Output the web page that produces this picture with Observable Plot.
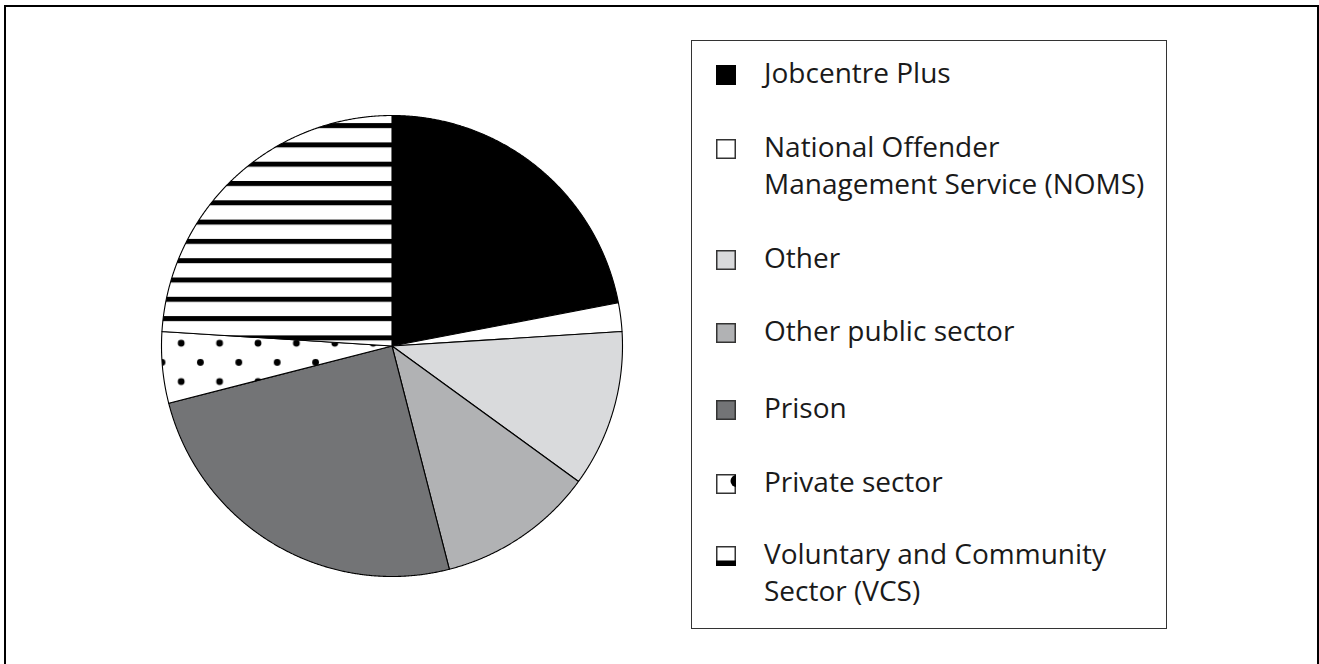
<!DOCTYPE html>
<html><head><meta charset="utf-8">
<script src="https://cdn.jsdelivr.net/npm/d3@7"></script>
<script src="https://cdn.jsdelivr.net/npm/@observablehq/plot@0.6"></script>
<style>
html,body{margin:0;padding:0;background:#fff;width:1319px;height:664px;overflow:hidden;}
#wrap{position:relative;width:1319px;height:664px;font-family:"Open Sans",sans-serif;color:#1a1a1a;}
#frame{position:absolute;left:4px;top:5px;width:1311px;height:720px;border:2px solid #000;border-bottom:none;pointer-events:none;box-sizing:content-box;}
#chart{position:absolute;left:0;top:0;}
#legend{position:absolute;left:691px;top:40px;width:474px;height:587px;border:1px solid #333;}
.sw{position:absolute;left:24px;width:20px;height:20px;overflow:visible;}
.lab{position:absolute;left:72px;font-size:28px;line-height:37.3px;white-space:nowrap;}
</style>
</head><body>
<div id="wrap"><div id="chart"></div><div id="legend"></div><div id="frame"></div></div>
<script>
const categories = ["Jobcentre Plus", "National Offender Management Service (NOMS)", "Other", "Other public sector", "Prison", "Private sector", "Voluntary and Community Sector (VCS)"];
const shares = [22, 2, 11, 11, 25, 5, 24];
const legendLines = [["Jobcentre Plus"], ["National Offender", "Management Service (NOMS)"], ["Other"], ["Other public sector"], ["Prison"], ["Private sector"], ["Voluntary and Community", "Sector (VCS)"]];
const fills = ["#000000", "#ffffff", "#d9dadc", "#b1b2b4", "#737476", "url(#dots)", "url(#stripes)"];

// slice outlines from the shares (clockwise from 12 o'clock)
const total = d3.sum(shares);
let cum = 0;
const slices = categories.map((c, i) => {
  const a0 = cum / total * 2 * Math.PI;
  cum += shares[i];
  const a1 = cum / total * 2 * Math.PI;
  const n = Math.max(2, Math.ceil((a1 - a0) / (Math.PI / 720)));
  const pts = [{x: 0, y: 0}];
  for (let k = 0; k <= n; k++) {
    const a = a0 + (a1 - a0) * k / n;
    pts.push({x: Math.sin(a), y: Math.cos(a)});
  }
  return pts;
});

const W = 680, H = 664, cx = 391.5, cy = 345.5, R = 230.5;
const plot = Plot.plot({
  width: W, height: H,
  marginLeft: cx - R, marginRight: W - (cx + R),
  marginTop: cy - R, marginBottom: H - (cy + R),
  x: {domain: [-1, 1], axis: null},
  y: {domain: [-1, 1], axis: null},
  style: {background: "none", overflow: "visible"},
  marks: slices.map((pts, i) => Plot.line(pts, {x: "x", y: "y", curve: "linear-closed", fill: fills[i], stroke: "#000", strokeWidth: 1.1, strokeLinejoin: "round"}))
});
const defs = d3.select(plot).insert("defs", ":first-child");
const dots = defs.append("pattern").attr("id", "dots").attr("patternUnits", "userSpaceOnUse")
  .attr("x", 180.7).attr("y", 342.7).attr("width", 38.4).attr("height", 38.4);
dots.append("rect").attr("width", 38.4).attr("height", 38.4).attr("fill", "#fff");
for (const [px, py] of [[0,0],[38.4,0],[0,38.4],[38.4,38.4],[19.2,19.2]]) dots.append("circle").attr("cx", px).attr("cy", py).attr("r", 3.4).attr("fill", "#000");
const stripes = defs.append("pattern").attr("id", "stripes").attr("patternUnits", "userSpaceOnUse")
  .attr("x", 0).attr("y", 315.6).attr("width", 40).attr("height", 19.3);
stripes.append("rect").attr("width", 40).attr("height", 19.3).attr("fill", "#fff");
stripes.append("rect").attr("width", 40).attr("height", 5).attr("fill", "#000");
document.getElementById("chart").appendChild(plot);

// legend
const baselines = [83, 157, 268, 341, 418, 492, 564];
const legend = d3.select("#legend");
categories.forEach((c, i) => {
  const b = baselines[i] - 41;
  const s = legend.append("svg").attr("class", "sw").style("top", (b - 18.5) + "px").attr("width", 20).attr("height", 20);
  s.append("rect").attr("x", 0.75).attr("y", 0.75).attr("width", 18.5).attr("height", 18.5)
    .attr("fill", fills[i].startsWith("url") ? "#fff" : fills[i]).attr("stroke", i === 0 ? "#000" : "#333").attr("stroke-width", 1.5);
  if (i === 5) {
    s.append("clipPath").attr("id", "swclip").append("rect").attr("width", 20).attr("height", 20);
    s.append("circle").attr("cx", 20.5).attr("cy", 7).attr("r", 6).attr("fill", "#000").attr("clip-path", "url(#swclip)");
  }
  if (i === 6) s.append("rect").attr("x", 0).attr("y", 14.5).attr("width", 20).attr("height", 5.5).attr("fill", "#000");
  const t = legend.append("div").attr("class", "lab").style("top", (b - 29.5) + "px");
  t.html(legendLines[i].join("<br>"));
});
</script>
</body></html>
